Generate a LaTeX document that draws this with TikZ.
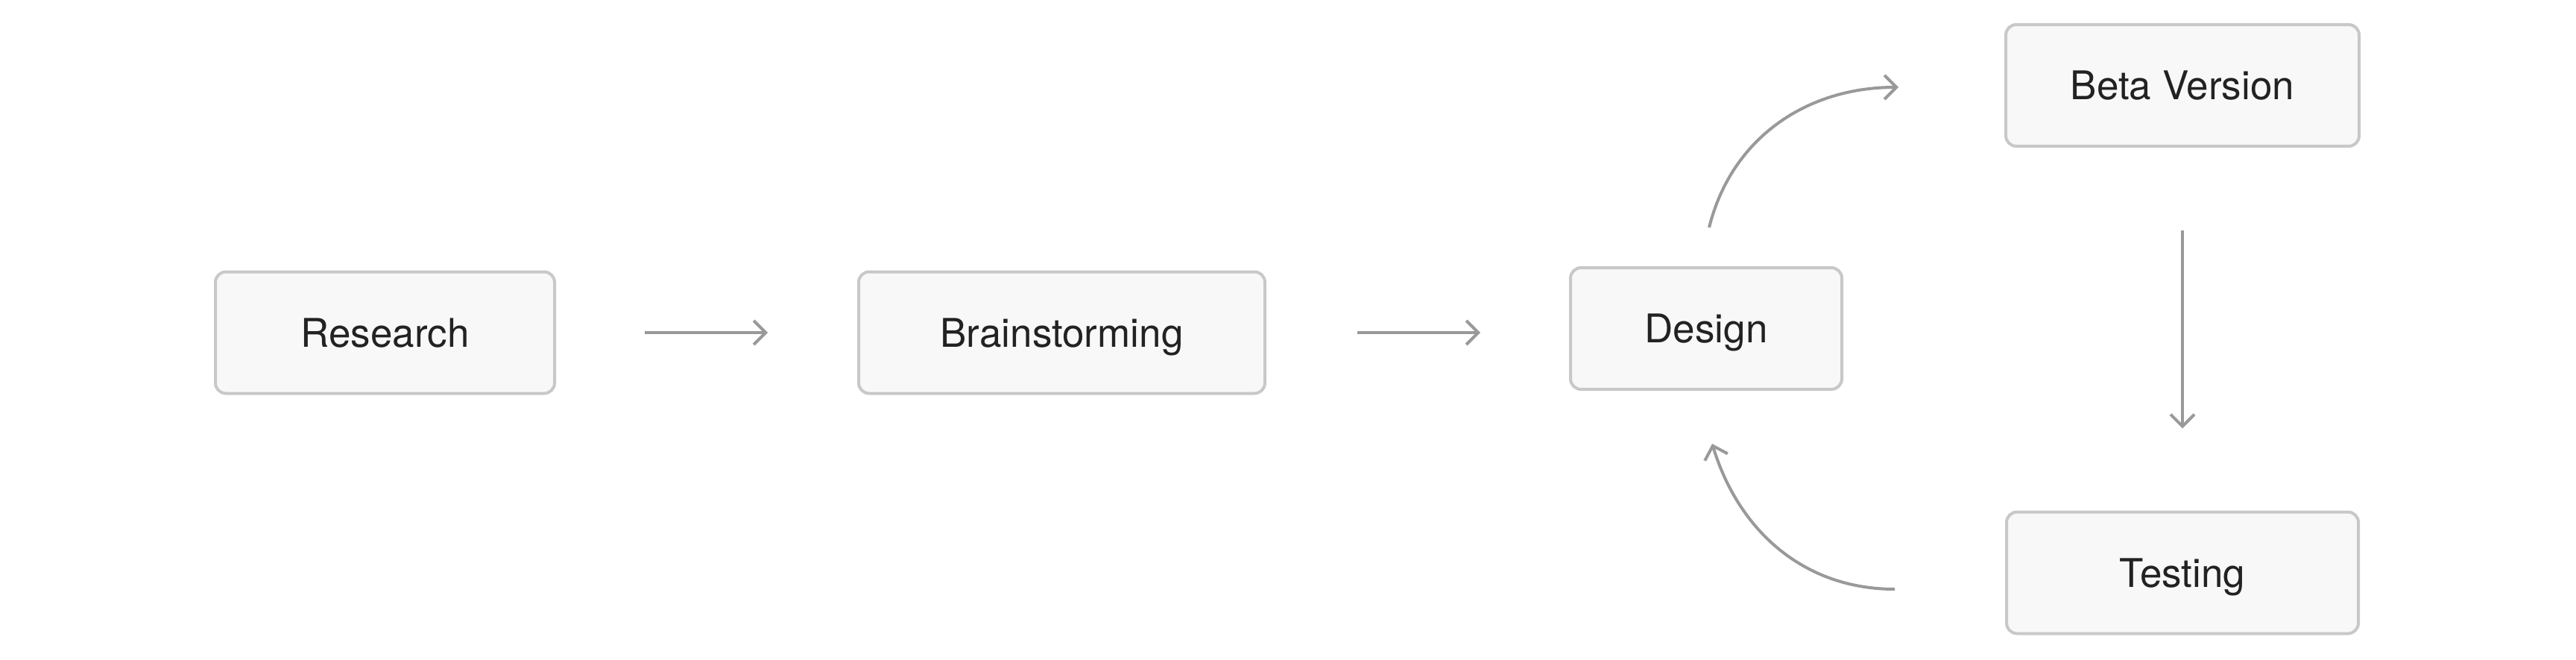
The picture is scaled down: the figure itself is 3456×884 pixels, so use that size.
\documentclass[tikz,border=0pt]{standalone}
\usepackage{fontspec}
\setmainfont{TeX Gyre Heros}
\usetikzlibrary{arrows.meta,calc}
\definecolor{boxfill}{HTML}{F8F8F8}
\definecolor{boxline}{HTML}{C8C8C8}
\definecolor{arrowgray}{HTML}{999999}
\definecolor{textcol}{HTML}{222222}
\begin{document}
\begin{tikzpicture}[x=0.5pt,y=-0.5pt,
  stepbox/.style={draw=boxline, fill=boxfill, line width=2pt, rounded corners=7pt,
    minimum height=81.5pt, inner sep=0pt, text=textcol,
    text height=19pt, text depth=0pt,
    font=\fontsize{26.5}{30}\selectfont},
  flow/.style={draw=arrowgray, line width=2pt,
    -{Straight Barb[length=8pt,width=16pt,line width=2pt]}}]
\useasboundingbox (0,0) rectangle (3456,884);
\node[stepbox, minimum width=227.5pt] (research) at (516.5,446) {Research};
\node[stepbox, minimum width=272.5pt] (brain) at (1424.5,446) {Brainstorming};
\node[stepbox, minimum width=182pt] (design) at (2289,440.5) {Design};
\node[stepbox, minimum width=237pt] (beta) at (2928,114.5) {Beta Version};
\node[stepbox, minimum width=236pt] (testing) at (2928,768) {Testing};
\draw[flow, shorten <=59.5pt, shorten >=60pt] (research.east) -- (brain.west);
\draw[flow, shorten <=61pt, shorten >=59.5pt] (brain.east) -- (brain.east -| design.west);
\draw[flow, shorten <=55.5pt, shorten >=55pt] (beta.south) -- (testing.north);
\coordinate (u1) at ($(design.north)+(4,-52)$);
\coordinate (u2) at ($(beta.west)+(-142,2.5)$);
\draw[flow] (u1) to[out=76,in=180] (u2);
\coordinate (l1) at ($(testing.west)+(-148,22)$);
\coordinate (l2) at ($(design.south)+(8,71)$);
\draw[flow] (l1) to[out=180,in=-73] (l2);
\end{tikzpicture}
\end{document}
